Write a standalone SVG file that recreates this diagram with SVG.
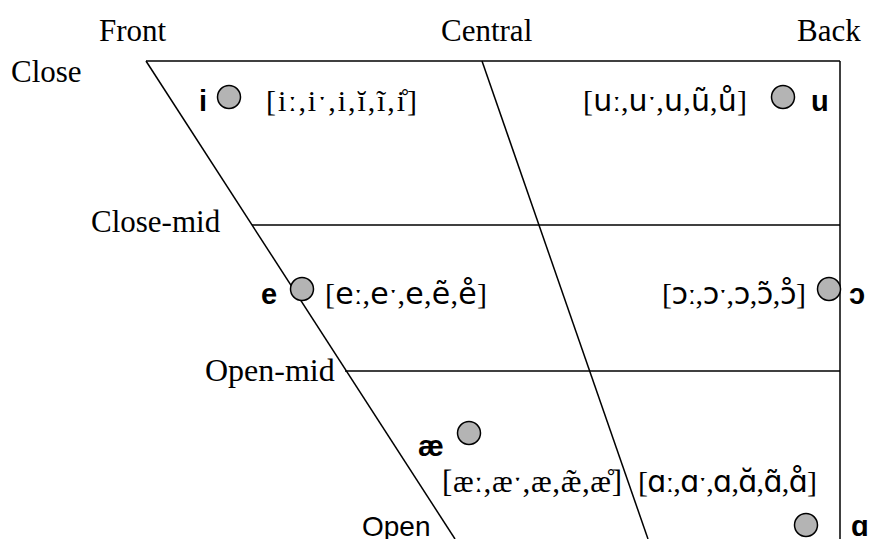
<svg xmlns="http://www.w3.org/2000/svg" width="880" height="539" viewBox="0 0 880 539">
<style>
.ln{stroke:#000;stroke-width:1.5;fill:none}
.lab{font-family:"Liberation Serif","Times New Roman",serif;font-size:31px;fill:#000}
.open{font-family:"Liberation Sans",Arial,sans-serif;font-size:28px;fill:#000}
.v{font-family:"Liberation Sans",Arial,sans-serif;font-weight:bold;font-size:29px;fill:#000}
.lst{font-family:"Liberation Serif","Times New Roman",serif;font-size:30px;fill:#000}
.s{font-family:"DejaVu Sans","Liberation Sans",sans-serif}
.dot{fill:#b4b4b4;stroke:#000;stroke-width:1.5}
</style>
<rect width="880" height="539" fill="#fff"/>
<g id="connectors" class="ln">
<line x1="146" y1="61" x2="840" y2="61"/>
<line x1="146" y1="61" x2="455" y2="539"/>
<line x1="482" y1="61" x2="648" y2="539"/>
<line x1="840" y1="61" x2="840" y2="539"/>
<line x1="252" y1="225" x2="840" y2="225"/>
<line x1="345" y1="371" x2="840" y2="371"/>
</g>
<g id="labels">
<text class="lab" x="99" y="41">Front</text>
<text class="lab" x="441" y="41">Central</text>
<text class="lab" x="797" y="41">Back</text>
<text class="lab" x="11" y="82">Close</text>
<text class="lab" x="91" y="232">Close-mid</text>
<text class="lab" x="205" y="381" style="font-size:32px">Open-mid</text>
<text class="open" x="362" y="536">Open</text>
</g>
<g id="vowel-i">
<text class="v" x="199" y="111">i</text>
<circle class="dot" cx="229" cy="97" r="11.5"/>
<text class="lst" x="266" y="111" textLength="151" lengthAdjust="spacing">[iː,iˑ,i,ĭ,ĩ,i̊]</text>
</g>
<g id="vowel-u">
<text class="lst" x="583" y="111" textLength="164" lengthAdjust="spacing">[<tspan class="s">u</tspan>ː,<tspan class="s">u</tspan>ˑ,<tspan class="s">u</tspan>,<tspan class="s">ũ</tspan>,<tspan class="s">ů</tspan>]</text>
<circle class="dot" cx="783" cy="97" r="11.5"/>
<text class="v" x="811" y="111">u</text>
</g>
<g id="vowel-e">
<text class="v" x="261" y="304">e</text>
<circle class="dot" cx="302" cy="289" r="11.5"/>
<text class="lst" x="325" y="304" textLength="162" lengthAdjust="spacing">[<tspan class="s">e</tspan>ː,<tspan class="s">e</tspan>ˑ,<tspan class="s">e</tspan>,<tspan class="s">ẽ</tspan>,<tspan class="s">e̊</tspan>]</text>
</g>
<g id="vowel-open-o">
<text class="lst" x="662" y="304" textLength="144" lengthAdjust="spacing">[<tspan class="s">ɔ</tspan>ː,<tspan class="s">ɔ</tspan>ˑ,<tspan class="s">ɔ</tspan>,<tspan class="s">ɔ̃</tspan>,<tspan class="s">ɔ̊</tspan>]</text>
<circle class="dot" cx="829" cy="289" r="11.5"/>
<text class="v" x="849" y="304">ɔ</text>
</g>
<g id="vowel-ae">
<text class="v" x="418" y="456">æ</text>
<circle class="dot" cx="469" cy="433" r="11.5"/>
<text class="lst" x="442" y="492" style="font-size:31px" textLength="180" lengthAdjust="spacing">[æː,æˑ,æ,æ̃,æ̊]</text>
</g>
<g id="vowel-a">
<text class="lst" x="638" y="492" textLength="179" lengthAdjust="spacing">[<tspan class="s">ɑ</tspan>ː,<tspan class="s">ɑ</tspan>ˑ,<tspan class="s">ɑ</tspan>,<tspan class="s">ɑ̆</tspan>,<tspan class="s">ɑ̃</tspan>,<tspan class="s">ɑ̊</tspan>]</text>
<circle class="dot" cx="806" cy="525" r="11.5"/>
<text class="v" x="851" y="536">ɑ</text>
</g>
</svg>
